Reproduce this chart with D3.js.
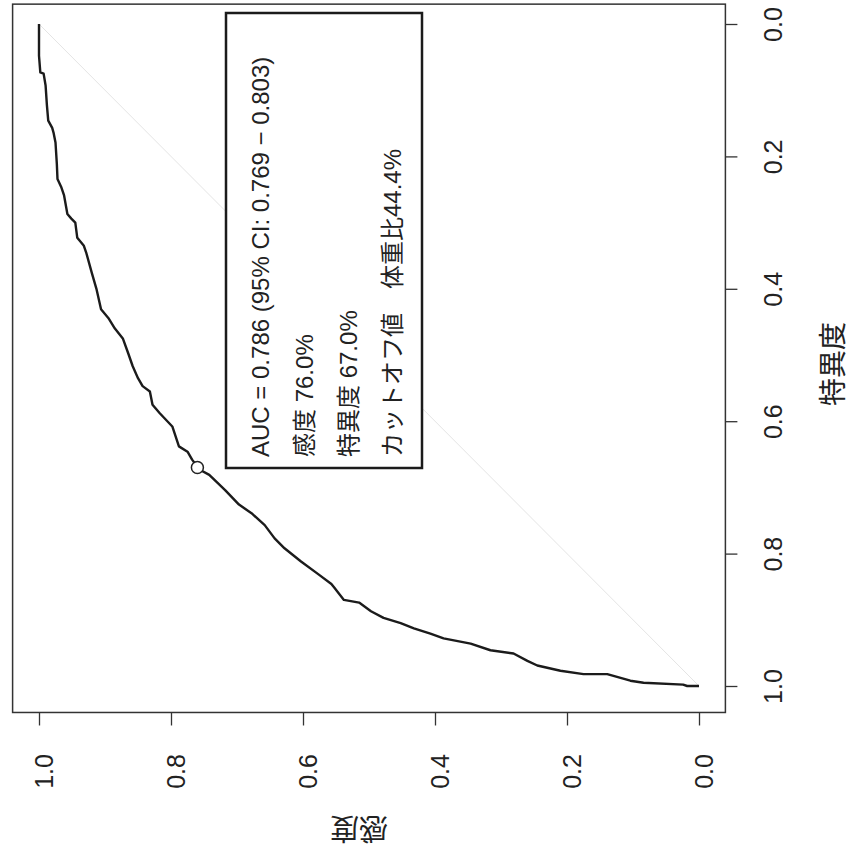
<!DOCTYPE html>
<meta charset="utf-8">
<script src="https://d3js.org/d3.v7.min.js"></script>
<style>
body { margin:0; background:#fff; overflow:hidden; }
text { font-family:'Liberation Sans','Noto Sans CJK JP',sans-serif; fill:#222; }
</style>
<svg width="849" height="861"></svg>
<script>
var spec = [0.000,0.048,0.073,0.075,0.093,0.123,0.146,0.157,0.164,0.179,0.211,0.234,0.247,0.259,0.287,0.294,0.300,0.323,0.335,0.347,0.376,0.400,0.431,0.444,0.460,0.475,0.497,0.517,0.535,0.547,0.555,0.575,0.588,0.608,0.638,0.646,0.658,0.673,0.681,0.704,0.726,0.739,0.757,0.777,0.792,0.812,0.831,0.846,0.851,0.870,0.874,0.887,0.897,0.905,0.913,0.921,0.928,0.936,0.946,0.951,0.962,0.969,0.977,0.982,0.982,0.992,0.995,0.998,1.000,1.000];
var sens = [1.000,1.000,0.998,0.993,0.990,0.988,0.986,0.980,0.978,0.975,0.973,0.972,0.966,0.962,0.957,0.951,0.945,0.942,0.932,0.928,0.920,0.913,0.906,0.895,0.885,0.873,0.865,0.858,0.850,0.843,0.832,0.828,0.817,0.798,0.788,0.775,0.768,0.757,0.742,0.718,0.697,0.678,0.658,0.643,0.628,0.603,0.577,0.557,0.553,0.538,0.515,0.497,0.478,0.452,0.432,0.407,0.387,0.346,0.316,0.281,0.260,0.245,0.210,0.175,0.139,0.104,0.084,0.024,0.018,0.000];
var ticks = [0, 0.2, 0.4, 0.6, 0.8, 1.0];
var best = {spec:0.670, sens:0.760};
var labels = [
  "AUC = 0.786 (95% CI: 0.769 \u2212 0.803)",
  "感度 76.0%",
  "特異度 67.0%",
  "カットオフ値\u3000体重比44.4%"
];

var svg = d3.select('svg');
svg.append('rect').attr('width',849).attr('height',861).attr('fill','#fff');

// the whole plot is turned 90deg counter-clockwise on the page
var x = d3.scaleLinear().domain([1,0]).range([39,699]);   // sensitivity
var y = d3.scaleLinear().domain([0,1]).range([24,686]);   // specificity

var fx0 = x(1.04), fx1 = x(-0.04), fy0 = y(-0.03), fy1 = y(1.04);

// chance diagonal
svg.append('line')
  .attr('x1', x(0)).attr('y1', y(1)).attr('x2', x(1)).attr('y2', y(0))
  .attr('stroke', '#e4e4e4').attr('stroke-width', 1);

var pts = spec.map(function(s, i){ return [s, sens[i]]; });
var line = d3.line().x(function(d){ return x(d[1]); }).y(function(d){ return y(d[0]); });
svg.append('path').datum(pts)
  .attr('d', line)
  .attr('fill','none').attr('stroke','#1b1b1b').attr('stroke-width',2.4)
  .attr('stroke-linejoin','round');

svg.append('circle')
  .attr('cx', x(best.sens)).attr('cy', y(best.spec)).attr('r', 6)
  .attr('fill','#fff').attr('stroke','#222').attr('stroke-width',1.5);

// frame
svg.append('rect')
  .attr('x', fx0).attr('y', fy0).attr('width', fx1 - fx0).attr('height', fy1 - fy0)
  .attr('fill','none').attr('stroke','#333').attr('stroke-width',1.5);

// specificity axis (right)
var ay = svg.append('g').attr('transform','translate(' + fx1 + ',0)')
  .call(d3.axisRight(y).tickValues(ticks).tickSize(12).tickFormat(d3.format('.1f')));
ay.select('.domain').remove();
ay.selectAll('line').attr('stroke','#333').attr('stroke-width',1.3);
ay.selectAll('text')
  .attr('x',null).attr('dy',null).attr('y',null)
  .attr('transform','translate(57,0) rotate(-90)')
  .attr('text-anchor','middle')
  .style('font-size','25px').style('font-family',"'Liberation Sans',sans-serif").attr('fill','#222');

// sensitivity axis (bottom)
var ax = svg.append('g').attr('transform','translate(0,' + fy1 + ')')
  .call(d3.axisBottom(x).tickValues(ticks).tickSize(13).tickFormat(d3.format('.1f')));
ax.select('.domain').remove();
ax.selectAll('line').attr('stroke','#333').attr('stroke-width',1.3);
ax.selectAll('text')
  .attr('x',null).attr('dy',null).attr('y',null)
  .attr('transform','translate(13,59) rotate(-90)')
  .attr('text-anchor','middle')
  .style('font-size','25px').style('font-family',"'Liberation Sans',sans-serif").attr('fill','#222');

// axis titles
svg.append('text')
  .attr('transform','translate(843,364) rotate(-90)')
  .attr('text-anchor','middle').style('font-size','28px')
  .text('特異度');
svg.append('text')
  .attr('transform','translate(359,818) rotate(180)')
  .attr('text-anchor','middle').style('font-size','29px')
  .text('感度');

// annotation box
svg.append('rect')
  .attr('x',226).attr('y',13).attr('width',196).attr('height',455)
  .attr('fill','#fff').attr('stroke','#1b1b1b').attr('stroke-width',2.5);
var lineX = [269, 313, 357, 401];
svg.selectAll('text.note').data(labels).enter().append('text')
  .attr('class','note')
  .attr('transform', function(d, i){ return 'translate(' + lineX[i] + ',457) rotate(-90)'; })
  .style('font-size','24px')
  .text(function(d){ return d; });
</script>
